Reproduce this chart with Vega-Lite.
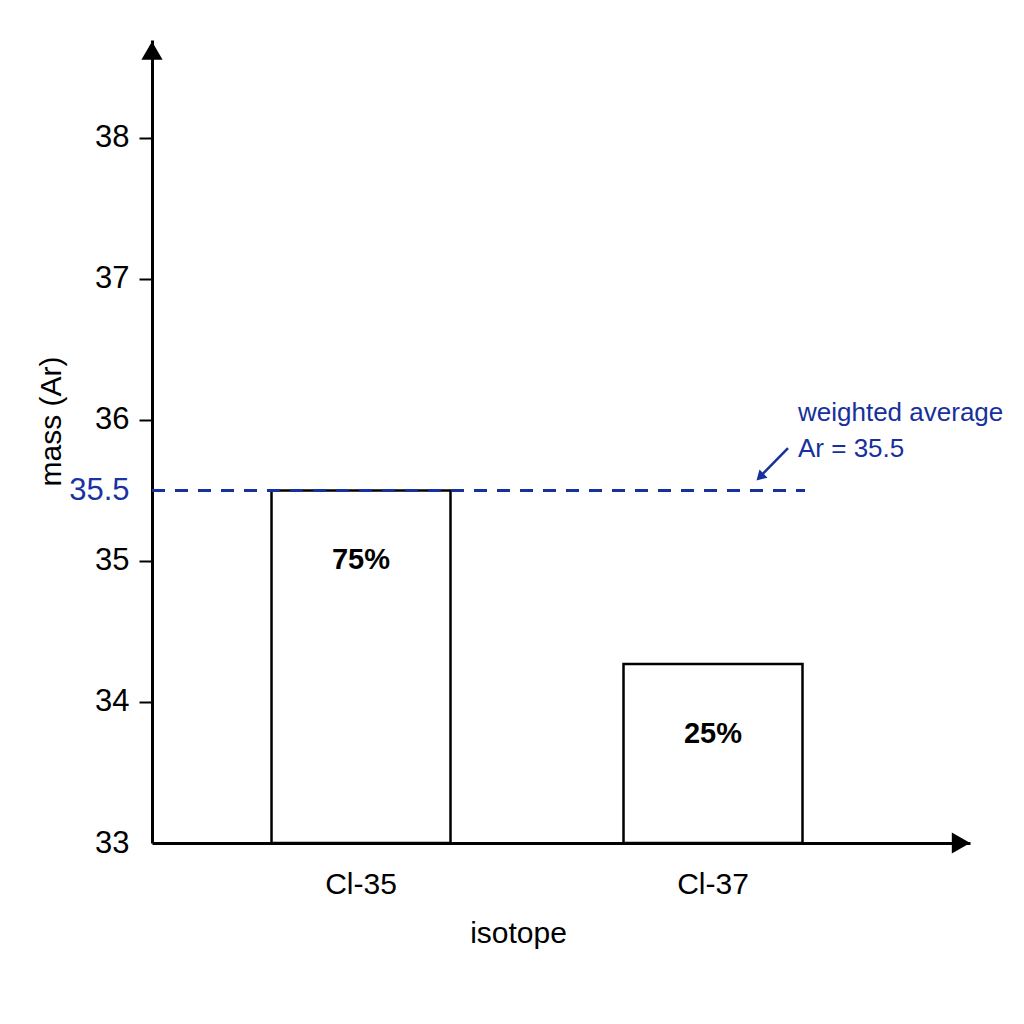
{
  "$schema": "https://vega.github.io/schema/vega-lite/v6.json",
  "autosize": "none",
  "width": 818,
  "height": 803,
  "padding": {"left": 152, "top": 40, "right": 54, "bottom": 181},
  "background": "white",
  "config": {
    "view": {"stroke": null},
    "font": "Liberation Sans",
    "axis": {"domainColor": "black", "domainWidth": 3, "tickColor": "black", "tickWidth": 2, "grid": false, "labelFont": "Liberation Sans", "titleFont": "Liberation Sans", "labelColor": "black", "titleColor": "black", "titleFontWeight": "normal", "zindex": 1}
  },
  "datasets": {
    "isotopes": [
      {"isotope": "Cl-35", "mass": 35.5, "abundance": "75%"},
      {"isotope": "Cl-37", "mass": 34.27, "abundance": "25%"}
    ],
    "average": [
      {"weighted_average": 35.5, "label": "weighted average\nAr = 35.5"}
    ]
  },
  "layer": [
    {
      "data": {"name": "isotopes"},
      "mark": {"type": "bar", "fill": "white", "stroke": "black", "strokeWidth": 2.5},
      "encoding": {
        "x": {
          "field": "isotope", "type": "nominal", "sort": null,
          "scale": {"paddingInner": 0.4915, "paddingOuter": 0.4077, "align": 0.4164},
          "axis": {"title": "isotope", "labelAngle": 0, "tickSize": 0, "labelPadding": 26, "labelFontSize": 30, "titleFontSize": 30, "titleX": 366, "titleY": 90, "titleBaseline": "middle", "titleAlign": "center"}
        },
        "y": {
          "field": "mass", "type": "quantitative",
          "scale": {"domain": [33, 38.695], "zero": false, "nice": false},
          "axis": {
            "title": "mass (Ar)",
            "values": [33, 34, 35, 35.5, 36, 37, 38],
            "format": "~r",
            "tickSize": 13,
            "labelPadding": 10,
            "labelFontSize": 31,
            "titleFontSize": 30,
            "titleX": -101,
            "titleY": 381,
            "titleBaseline": "middle",
            "titleAlign": "center",
            "labelColor": {"condition": {"test": "datum.value == 35.5", "value": "#1a32a2"}, "value": "black"},
            "tickColor": {"condition": {"test": "datum.value == 35.5 || datum.value == 33", "value": "transparent"}, "value": "black"}
          }
        },
        "y2": {"datum": 33}
      }
    },
    {
      "data": {"name": "isotopes"},
      "mark": {"type": "text", "fontSize": 29, "fontWeight": "bold", "dy": 70, "baseline": "middle", "color": "black"},
      "encoding": {
        "x": {"field": "isotope", "type": "nominal", "sort": null},
        "y": {"field": "mass", "type": "quantitative"},
        "text": {"field": "abundance"}
      }
    },
    {
      "data": {"name": "average"},
      "mark": {"type": "rule", "color": "#17309c", "strokeWidth": 3, "strokeDash": [13, 10], "xOffset": -209, "x2Offset": 92},
      "encoding": {
        "x": {"datum": "Cl-35"},
        "x2": {"datum": "Cl-37"},
        "y": {"field": "weighted_average", "type": "quantitative"}
      }
    },
    {
      "data": {"name": "average"},
      "mark": {"type": "text", "color": "#17309c", "fontSize": 26, "align": "left", "baseline": "middle", "lineBreak": "\n", "lineHeight": 36, "dx": 85},
      "encoding": {
        "x": {"datum": "Cl-37"},
        "y": {"datum": 36.05},
        "text": {"field": "label"}
      }
    },
    {
      "data": {"name": "average"},
      "mark": {"type": "rule", "color": "#17309c", "strokeWidth": 2.5, "xOffset": 75, "x2Offset": 50},
      "encoding": {
        "x": {"datum": "Cl-37"},
        "x2": {"datum": "Cl-37"},
        "y": {"datum": 35.8},
        "y2": {"datum": 35.62}
      }
    },
    {
      "data": {"name": "average"},
      "mark": {"type": "point", "shape": "triangle-down", "filled": true, "color": "#17309c", "size": 130, "angle": 45, "xOffset": 47, "opacity": 1},
      "encoding": {
        "x": {"datum": "Cl-37"},
        "y": {"datum": 35.595}
      }
    },
    {
      "data": {"name": "average"},
      "mark": {"type": "point", "shape": "triangle-up", "filled": true, "color": "black", "size": 450, "opacity": 1},
      "encoding": {
        "x": {"value": 0},
        "y": {"datum": 38.62}
      }
    },
    {
      "data": {"name": "average"},
      "mark": {"type": "point", "shape": "triangle-right", "filled": true, "color": "black", "size": 450, "opacity": 1, "xOffset": -9},
      "encoding": {
        "x": {"value": "width"},
        "y": {"datum": 33}
      }
    }
  ]
}
